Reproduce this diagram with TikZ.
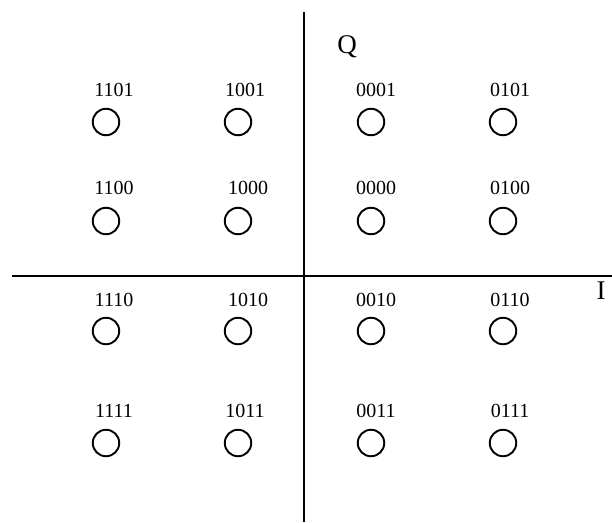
\documentclass[tikz,border=0pt]{standalone}
\usepackage{fontspec}
\setmainfont{Liberation Serif}
\begin{document}
\begin{tikzpicture}[x=1pt,y=-1pt,
  pt/.style={circle,draw,line width=1.9pt,minimum size=26.5pt,inner sep=0pt},
  lbl/.style={anchor=base,font=\fontsize{20}{20}\selectfont,inner sep=0pt},
  axis/.style={line width=1.6pt},
  axlbl/.style={anchor=base,font=\fontsize{27}{27}\selectfont,inner sep=0pt}]
\useasboundingbox (0,0) rectangle (612,522);
\coordinate (qtop) at (304,12);
\coordinate (qbot) at (304,522);
\coordinate (ileft) at (12,276);
\coordinate (iright) at (612,276);
\draw[axis] (qtop) -- (qbot);
\draw[axis] (ileft) -- (iright);
\node[axlbl] (Q) at (347,53) {Q};
\node[axlbl] (I) at (601,299) {I};
% row 1
\foreach \b/\cx/\lx in {1101/106/114, 1001/238/245, 0001/371/376, 0101/503/510}{
  \node[pt] (c\b) at (\cx,122) {};
  \node[lbl] (l\b) at (\lx,96) {\b};
}
% row 2
\foreach \b/\cx/\lx in {1100/106/114, 1000/238/248, 0000/371/376, 0100/503/510}{
  \node[pt] (c\b) at (\cx,221) {};
  \node[lbl] (l\b) at (\lx,194) {\b};
}
% row 3
\foreach \b/\cx/\lx in {1110/106/114, 1010/238/248, 0010/371/376, 0110/503/510}{
  \node[pt] (c\b) at (\cx,331) {};
  \node[lbl] (l\b) at (\lx,306) {\b};
}
% row 4
\foreach \b/\cx/\lx in {1111/106/114, 1011/238/245, 0011/371/376, 0111/503/510}{
  \node[pt] (c\b) at (\cx,443) {};
  \node[lbl] (l\b) at (\lx,417) {\b};
}
\end{tikzpicture}
\end{document}
